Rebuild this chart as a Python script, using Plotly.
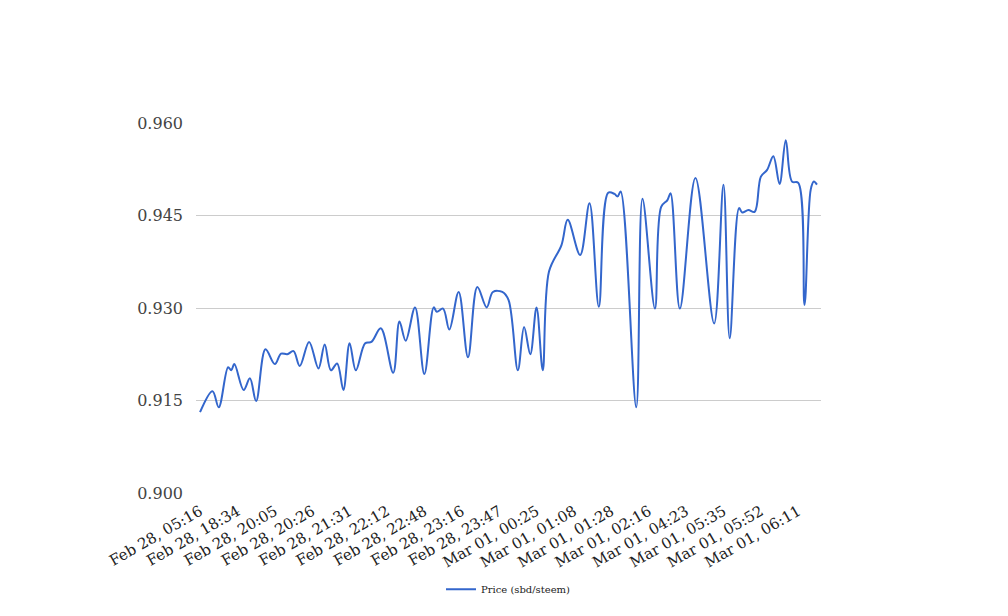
import plotly.graph_objects as go

# Sample positions (time index, 12 steps between labelled ticks) and prices
t_index = [0, 4, 6, 9, 10, 11, 14, 16, 18, 21, 24, 26, 28, 30, 32, 35, 38, 40, 42, 44,
           46, 48, 50, 53, 55, 58, 62, 64, 66, 69, 72, 75, 76, 78, 80, 83, 86, 89, 92, 94,
           97, 99, 102, 104, 106, 108, 110, 112, 116, 118, 122, 125, 128, 131, 133, 134, 135, 140, 142, 146,
           148, 150, 151, 154, 159, 165, 168, 170, 173, 174, 176, 178, 180, 182, 184, 186, 188, 190, 192, 194,
           196, 197, 198]
price = [0.9131, 0.9165, 0.9139, 0.9204, 0.9199, 0.9209, 0.9167, 0.9186, 0.9149, 0.9233,
         0.9209, 0.9226, 0.9225, 0.9230, 0.9206, 0.9245, 0.9202, 0.9241, 0.9199, 0.9210,
         0.9167, 0.9243, 0.9199, 0.9243, 0.9245, 0.9267, 0.9195, 0.9278, 0.9247, 0.9301,
         0.9193, 0.9301, 0.9294, 0.9299, 0.9265, 0.9326, 0.9220, 0.9334, 0.9301, 0.9326,
         0.9326, 0.9313, 0.9199, 0.9269, 0.9225, 0.9301, 0.9199, 0.9359, 0.9402, 0.9443,
         0.9386, 0.9470, 0.9302, 0.9487, 0.9485, 0.9481, 0.9489, 0.9139, 0.9477, 0.9299,
         0.9464, 0.9475, 0.9486, 0.9299, 0.9511, 0.9275, 0.9500, 0.9251, 0.9462, 0.9455,
         0.9459, 0.9456, 0.9513, 0.9524, 0.9546, 0.9501, 0.9572, 0.9505, 0.9503, 0.9305,
         0.9492, 0.9505, 0.9500]

tick_pos = [0, 12, 24, 36, 48, 60, 72, 84, 96, 108, 120, 132, 144, 156, 168, 180, 192]
tick_labels = ["Feb 28, 05:16", "Feb 28, 18:34", "Feb 28, 20:05", "Feb 28, 20:26",
               "Feb 28, 21:31", "Feb 28, 22:12", "Feb 28, 22:48", "Feb 28, 23:16",
               "Feb 28, 23:47", "Mar 01, 00:25", "Mar 01, 01:08", "Mar 01, 01:28",
               "Mar 01, 02:16", "Mar 01, 04:23", "Mar 01, 05:35", "Mar 01, 05:52",
               "Mar 01, 06:11"]
y_ticks = [0.900, 0.915, 0.930, 0.945, 0.960]

fig = go.Figure()
fig.add_trace(go.Scatter(
    x=t_index, y=price, mode="lines", name="Price (sbd/steem)",
    line=dict(color="#3366cc", width=2, shape="spline", smoothing=1.0),
))

font_family = "DejaVu Serif"
fig.update_layout(
    width=1008, height=616,
    margin=dict(l=188, r=195, t=115, b=131, pad=0),
    paper_bgcolor="white", plot_bgcolor="white",
    font=dict(family=font_family, color="#444444"),
    showlegend=True,
    legend=dict(orientation="h", x=0.5, xanchor="center", y=-0.26, yanchor="middle",
                font=dict(size=10, family=font_family, color="#222222")),
    xaxis=dict(range=[-1.3, 199.3], tickmode="array", tickvals=tick_pos, ticktext=tick_labels,
               tickangle=-30, showgrid=False, zeroline=False, showline=False, ticks="",
               ticklabelstandoff=6,
               tickfont=dict(size=15, family=font_family, color="#222222")),
    yaxis=dict(range=[0.900, 0.960], tickmode="array", tickvals=y_ticks,
               ticktext=[f"{v:.3f}" for v in y_ticks],
               showgrid=True, gridcolor="#cccccc", gridwidth=1, zeroline=False,
               showline=False, ticks="", ticklabelstandoff=12,
               tickfont=dict(size=16, family=font_family, color="#444444")),
)

fig.write_html("out.html")
